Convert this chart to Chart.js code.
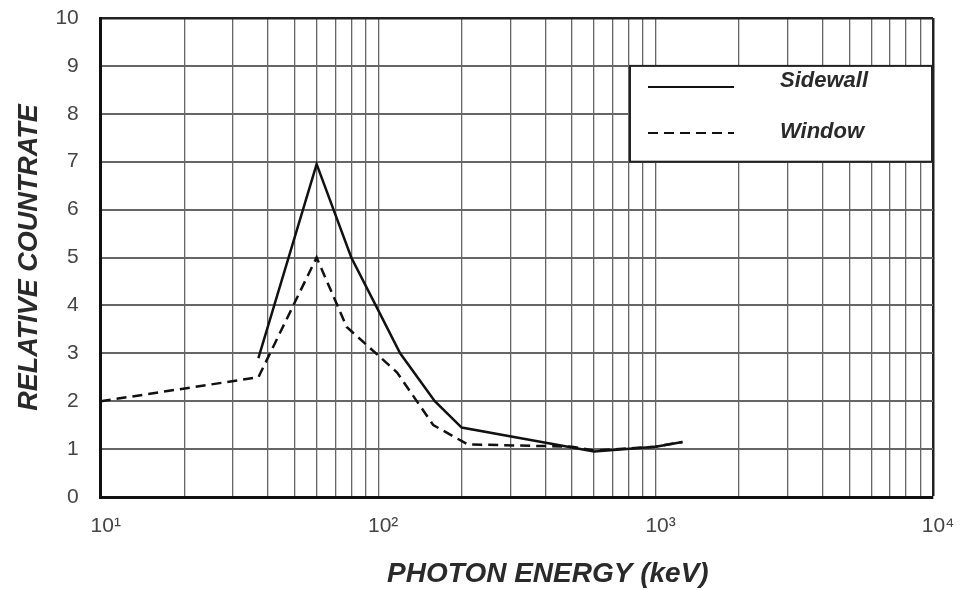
<!DOCTYPE html>
<html>
<head>
<meta charset="utf-8">
<title>Relative countrate vs photon energy</title>
<script src="https://cdn.jsdelivr.net/npm/chart.js@4.4.0/dist/chart.umd.min.js"></script>
<style>
  html, body { margin: 0; padding: 0; background: #fff; }
  #wrap { width: 971px; height: 590px; }
</style>
</head>
<body>
<div id="wrap"><canvas id="chart"></canvas></div>
<script>
// values (energy in keV)
const sidewallEnergy = [37, 60, 80, 100, 120, 160, 200, 600, 1000, 1250];
const sidewallRate   = [2.9, 6.95, 5.0, 3.9, 3.0, 2.0, 1.45, 0.95, 1.05, 1.15];

const windowEnergy = [10, 37, 60, 77, 117, 158, 210, 500, 600, 1000, 1250];
const windowRate   = [2.0, 2.5, 5.0, 3.55, 2.6, 1.5, 1.1, 1.05, 0.97, 1.05, 1.15];

const energyGrid = [10, 20, 30, 40, 50, 60, 70, 80, 90,
                    100, 200, 300, 400, 500, 600, 700, 800, 900,
                    1000, 2000, 3000, 4000, 5000, 6000, 7000, 8000, 9000, 10000];
const energyLabels = { 10: '10\u00B9', 100: '10\u00B2', 1000: '10\u00B3', 10000: '10\u2074' };

const seriesNames = ['Sidewall', 'Window'];
const xTitle = 'PHOTON ENERGY (keV)';
const yTitle = 'RELATIVE COUNTRATE';

const FONT = "'Liberation Sans', Arial, sans-serif";

function toPoints(xs, ys) {
  return xs.map((x, i) => ({ x: x, y: ys[i] }));
}

// framed legend over the grid (top right) and the x-axis title,
// which sits a little right of the plot centre in the original
const extras = {
  id: 'extras',
  afterDraw(chart) {
    const { ctx, chartArea, scales } = chart;
    const top = scales.y.getPixelForValue(9);
    const bottom = scales.y.getPixelForValue(7);
    const right = chartArea.right - 1;
    const left = right - 302;
    ctx.save();
    ctx.fillStyle = '#fff';
    ctx.fillRect(left, top, right - left, bottom - top);
    ctx.strokeStyle = '#222';
    ctx.lineWidth = 2;
    ctx.strokeRect(left, top, right - left, bottom - top);

    const lineRows = [top + 21, top + 67];
    const textRows = [top + 15, top + 66];
    chart.data.datasets.forEach((ds, i) => {
      ctx.beginPath();
      ctx.setLineDash(ds.borderDash || []);
      ctx.strokeStyle = ds.borderColor;
      ctx.lineWidth = 2;
      ctx.moveTo(left + 18, lineRows[i]);
      ctx.lineTo(left + 104, lineRows[i]);
      ctx.stroke();
      ctx.setLineDash([]);
      ctx.fillStyle = '#2a2a2a';
      ctx.font = 'italic bold 22px ' + FONT;
      ctx.textBaseline = 'middle';
      ctx.textAlign = 'left';
      ctx.fillText(ds.label, left + 150, textRows[i]);
    });

    ctx.fillStyle = '#2a2a2a';
    ctx.font = 'italic bold 28px ' + FONT;
    ctx.textAlign = 'center';
    ctx.textBaseline = 'middle';
    ctx.fillText(xTitle, (chartArea.left + chartArea.right) / 2 + 31, chartArea.bottom + 77);
    ctx.restore();
  }
};

new Chart(document.getElementById('chart').getContext('2d'), {
  type: 'line',
  data: {
    datasets: [{
      label: seriesNames[0],
      data: toPoints(sidewallEnergy, sidewallRate),
      borderColor: '#111',
      borderWidth: 2.5,
      pointRadius: 0,
      tension: 0
    }, {
      label: seriesNames[1],
      data: toPoints(windowEnergy, windowRate),
      borderColor: '#111',
      borderWidth: 2.5,
      borderDash: [10, 6],
      pointRadius: 0,
      tension: 0
    }]
  },
  options: {
    responsive: true,
    maintainAspectRatio: false,
    animation: false,
    layout: { padding: { top: 0, right: 38, bottom: 0, left: 8 } },
    plugins: {
      legend: { display: false },
      tooltip: { enabled: false }
    },
    scales: {
      x: {
        type: 'logarithmic',
        min: 10,
        max: 10000,
        afterBuildTicks: (scale) => {
          scale.ticks = energyGrid.map(v => ({ value: v }));
        },
        afterFit: (scale) => {
          scale.height = 93; // room for tick labels and the title drawn by the plugin
        },
        ticks: {
          autoSkip: false,
          maxRotation: 0,
          padding: 17,
          labelOffset: 5,
          color: '#444',
          font: { family: FONT, size: 21 },
          callback: (value) => energyLabels[value] || ''
        },
        grid: {
          drawTicks: false,
          color: (c) => (c.tick && c.tick.value === 10000) ? '#222' : '#666',
          lineWidth: (c) => (c.tick && c.tick.value === 10000) ? 2.5 : 1.3
        },
        border: { color: '#111', width: 3 },
        title: { display: false }
      },
      y: {
        min: 0,
        max: 10,
        afterFit: (scale) => {
          scale.paddingTop = 18;
        },
        ticks: {
          stepSize: 1,
          padding: 22,
          color: '#444',
          font: { family: FONT, size: 21 }
        },
        grid: {
          drawTicks: false,
          color: (c) => (c.tick && c.tick.value === 10) ? '#222' : '#666',
          lineWidth: (c) => (c.tick && c.tick.value === 10) ? 2.5 : 2
        },
        border: { color: '#111', width: 3 },
        title: {
          display: true,
          text: yTitle,
          color: '#2a2a2a',
          font: { family: FONT, size: 27, style: 'italic', weight: 'bold' },
          padding: { top: 5, bottom: -12 }
        }
      }
    }
  },
  plugins: [extras]
});
</script>
</body>
</html>
